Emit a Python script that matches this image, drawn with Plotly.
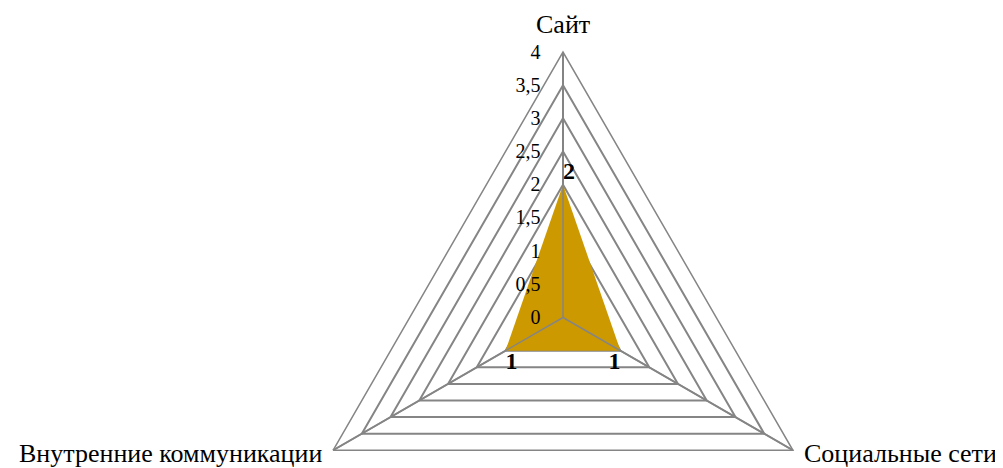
import plotly.graph_objects as go

# Data
categories = ["Сайт", "Социальные сети", "Внутренние коммуникации"]
values = [2, 1, 1]
label_positions = ["top right", "bottom left", "bottom right"]
r_max = 4
r_step = 0.5

FILL = "#CC9900"
GRID = "#858585"
FONT = "Liberation Serif, Times New Roman, serif"

# page geometry (the html body adds an 8px margin)
W, H = 995, 600
M_L, M_T, M_B = 115, 44, 25
plot_w = W - M_L
plot_h = H - M_T - M_B


def to_paper(px, py):
    """Page pixel -> paper coords."""
    return (px - 8 - M_L) / plot_w, 1 - (py - 8 - M_T) / plot_h


fig = go.Figure()

fig.add_trace(go.Scatterpolar(
    r=values + values[:1],
    theta=categories + categories[:1],
    mode="lines",
    fill="toself",
    fillcolor=FILL,
    line=dict(color=FILL, width=0),
    hoverinfo="skip",
    showlegend=False,
))

# spokes drawn over the fill, like the axis lines in the original
for cat in categories:
    fig.add_trace(go.Scatterpolar(
        r=[0, r_max],
        theta=[cat, cat],
        mode="lines",
        line=dict(color=GRID, width=1.5),
        hoverinfo="skip",
        showlegend=False,
    ))

# data labels
fig.add_trace(go.Scatterpolar(
    r=values,
    theta=categories,
    mode="text",
    text=[str(v) for v in values],
    textposition=label_positions,
    textfont=dict(family=FONT, size=24, color="black", weight="bold"),
    hoverinfo="skip",
    showlegend=False,
))

# category labels
cat_pos = [
    (563, 25, "center"),
    (802, 453, "left"),
    (324, 453, "right"),
]
for cat, (px, py, anchor) in zip(categories, cat_pos):
    x, y = to_paper(px, py)
    fig.add_annotation(
        x=x, y=y, xref="paper", yref="paper",
        text=cat, showarrow=False,
        xanchor=anchor, yanchor="middle",
        font=dict(family=FONT, size=26, color="black"),
    )

fig.update_layout(
    width=W,
    height=H,
    margin=dict(l=M_L, r=0, t=M_T, b=M_B),
    paper_bgcolor="white",
    separators=", ",
    font=dict(family=FONT, color="black"),
    polar=dict(
        bgcolor="white",
        gridshape="linear",
        radialaxis=dict(
            range=[0, r_max],
            dtick=r_step,
            angle=90,
            tickangle=90,
            side="counterclockwise",
            showline=False,
            ticks="outside",
            ticklen=15,
            tickcolor="rgba(0,0,0,0)",
            gridcolor=GRID,
            gridwidth=1.5,
            tickfont=dict(family=FONT, size=20, color="black"),
            layer="above traces",
        ),
        angularaxis=dict(
            rotation=90,
            direction="clockwise",
            showline=True,
            linecolor=GRID,
            linewidth=1.5,
            gridcolor=GRID,
            gridwidth=1.5,
            ticks="",
            showticklabels=False,
        ),
    ),
)

fig.write_html("out.html")
